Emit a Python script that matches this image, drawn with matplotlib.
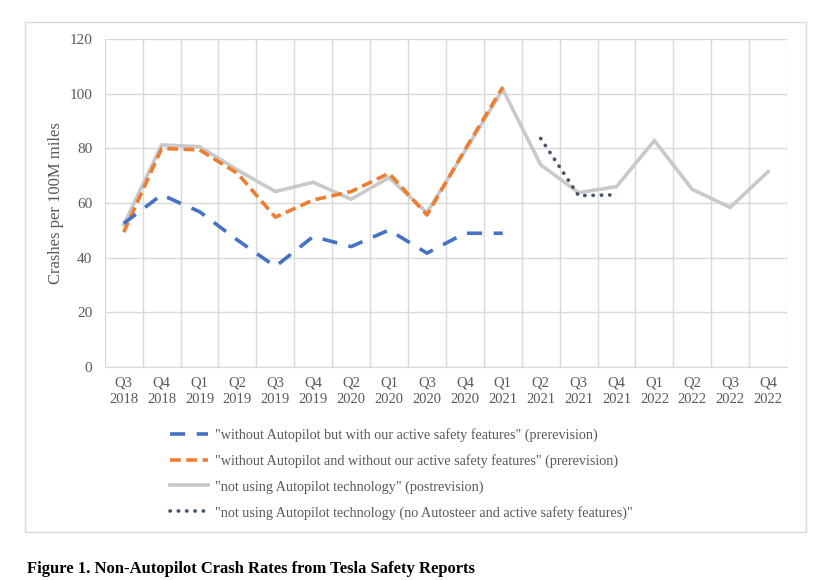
import numpy as np
import matplotlib
matplotlib.use('Agg')
import matplotlib.pyplot as plt
from matplotlib.patches import Rectangle

plt.rcParams['font.family'] = ['Liberation Serif', 'DejaVu Serif']

trimestres = ['Q3\n2018', 'Q4\n2018', 'Q1\n2019', 'Q2\n2019', 'Q3\n2019', 'Q4\n2019',
              'Q2\n2020', 'Q1\n2020', 'Q3\n2020', 'Q4\n2020', 'Q1\n2021', 'Q2\n2021',
              'Q3\n2021', 'Q4\n2021', 'Q1\n2022', 'Q2\n2022', 'Q3\n2022', 'Q4\n2022']

com_seguranca = [52.5, 63.0, 56.8, 46.4, 36.7, 47.7, 44.0, 50.1, 41.6, 48.9, 48.9,
                 None, None, None, None, None, None, None]
sem_seguranca = [49.3, 80.0, 79.5, 70.9, 54.8, 61.1, 64.2, 70.9, 55.6, 79.5, 102.5,
                 None, None, None, None, None, None, None]
pos_revisao = [52.0, 81.3, 80.7, 72.1, 64.2, 67.6, 61.4, 69.3, 56.5, 79.0, 101.7,
               74.0, 63.8, 66.0, 82.9, 65.0, 58.4, 71.5]
sem_autosteer = [None, None, None, None, None, None, None, None, None, None, None,
                 83.7, 62.7, 63.0, None, None, None, None]

nomes = ['"without Autopilot but with our active safety features" (prerevision)',
         '"without Autopilot and without our active safety features" (prerevision)',
         '"not using Autopilot technology" (postrevision)',
         '"not using Autopilot technology (no Autosteer and active safety features)"']

cinza_txt = '#595959'
grade = '#D9D9D9'

fig = plt.figure(figsize=(8.25, 5.8), dpi=100)
ax = fig.add_axes([0.127, 0.368, 0.827, 0.564])

x = np.arange(len(trimestres))
def serie(v):
    return np.array([np.nan if a is None else a for a in v], dtype=float)

l3, = ax.plot(x, serie(pos_revisao), color='#C9C9C9', lw=2.6, zorder=2,
              solid_joinstyle='miter', label=nomes[2])
l2, = ax.plot(x, serie(sem_seguranca), color='#ED7D31', lw=2.6, zorder=3,
              dashes=(3, 1.5), label=nomes[1])
l1, = ax.plot(x, serie(com_seguranca), color='#4472C4', lw=2.6, zorder=3,
              dashes=(4.2, 3.2), label=nomes[0])
l4, = ax.plot(x, serie(sem_autosteer), color='#44546A', lw=2.6, zorder=4,
              dashes=(0.1, 2.2), dash_capstyle='round', label=nomes[3])

ax.set_xlim(-0.5, len(trimestres) - 0.5)
ax.set_ylim(0, 120)
ax.set_yticks(range(0, 121, 20))
ax.set_xticks(x)
ax.set_xticklabels(trimestres, fontsize=10.5, color=cinza_txt, linespacing=1.4)
ax.set_xticks(np.arange(-0.5, len(trimestres)), minor=True)
ax.tick_params(axis='y', labelsize=11, colors=cinza_txt, length=0, pad=9)
ax.tick_params(axis='x', which='both', length=0, pad=7)
ax.grid(True, axis='y', color=grade, lw=1)
ax.grid(True, axis='x', which='minor', color=grade, lw=1)
for s in ['top', 'right', 'left']:
    ax.spines[s].set_visible(False)
ax.spines['bottom'].set_color(grade)
ax.set_axisbelow(True)
ax.set_ylabel('Crashes per 100M miles', fontsize=12, color=cinza_txt, labelpad=4)

fig.legend(handles=[l1, l2, l3, l4], loc='upper left', bbox_to_anchor=(0.206, 0.262),
           frameon=False, fontsize=10.2, handlelength=2.7, handletextpad=0.5,
           labelspacing=0.85, labelcolor=cinza_txt, borderaxespad=0, borderpad=0)

fig.patches.append(Rectangle((0.030, 0.083), 0.947, 0.879, transform=fig.transFigure,
                             fill=False, edgecolor=grade, lw=1))
fig.text(0.033, 0.012, 'Figure 1. Non-Autopilot Crash Rates from Tesla Safety Reports',
         fontsize=12, fontweight='bold', color='black')

fig.savefig('out.png', dpi=100)
